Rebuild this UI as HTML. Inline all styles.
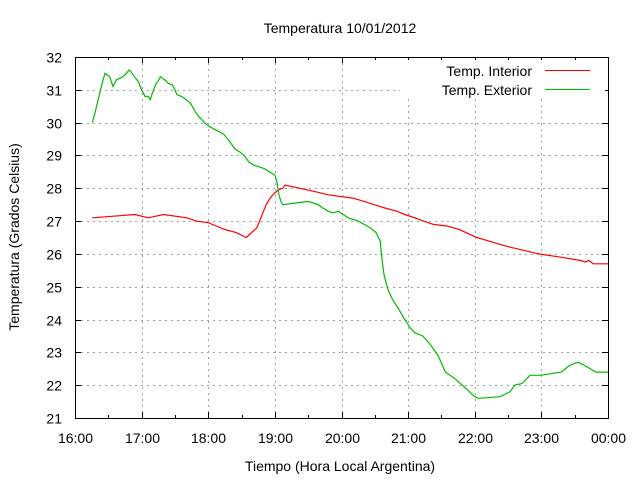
<!DOCTYPE html>
<html><head><meta charset="utf-8"><style>
body{margin:0;background:#fff}
svg text{font-family:"Liberation Sans",Arial,sans-serif;font-size:14px;fill:#000}
</style></head><body>
<svg width="640" height="480" viewBox="0 0 640 480">
<rect width="640" height="480" fill="#fff"/>
<g id="grid"></g>
<g id="axes"></g>
<g id="series"></g>
<text x="340" y="33" text-anchor="middle">Temperatura 10/01/2012</text>
<text x="340" y="471" text-anchor="middle">Tiempo (Hora Local Argentina)</text>
<text x="0" y="0" text-anchor="middle" transform="translate(19,237) rotate(-90)">Temperatura (Grados Celsius)</text>
<g>
<rect x="400" y="60" width="205" height="38" fill="#fff"/>
<text x="532" y="76" text-anchor="end">Temp. Interior</text>
<line x1="545" y1="70.5" x2="590" y2="70.5" stroke="#f00" stroke-width="1"/>
<text x="532" y="95" text-anchor="end">Temp. Exterior</text>
<line x1="545" y1="89.5" x2="590" y2="89.5" stroke="#0b0" stroke-width="1"/>
</g>
</svg>
<script>
const xTickLabels=["16:00","17:00","18:00","19:00","20:00","21:00","22:00","23:00","00:00"];
const yTickValues=[21,22,23,24,25,26,27,28,29,30,31,32];
const interiorTimes=[16.26,16.9,17.1,17.33,17.68,17.82,18.0,18.12,18.24,18.42,18.57,18.73,18.78,18.83,18.87,18.93,18.97,19.05,19.12,19.15,19.6,19.8,20.17,20.34,20.49,20.65,20.83,20.95,21.1,21.23,21.38,21.58,21.76,21.92,22.03,22.2,22.36,22.54,22.75,22.96,23.29,23.59,23.66,23.71,23.78,24.0];
const interiorTemps=[27.1,27.2,27.1,27.2,27.1,27.0,26.95,26.85,26.75,26.65,26.5,26.8,27.05,27.3,27.5,27.7,27.8,27.95,28.0,28.1,27.9,27.8,27.7,27.6,27.5,27.4,27.3,27.2,27.1,27.0,26.9,26.85,26.75,26.6,26.5,26.4,26.3,26.2,26.1,26.0,25.9,25.8,25.75,25.8,25.7,25.7];
const exteriorTimes=[16.26,16.3,16.36,16.42,16.45,16.52,16.57,16.62,16.72,16.77,16.81,16.84,16.89,16.95,17.0,17.05,17.1,17.13,17.16,17.22,17.26,17.28,17.32,17.35,17.4,17.46,17.5,17.53,17.6,17.67,17.73,17.8,17.85,17.9,17.94,18.0,18.09,18.23,18.33,18.4,18.48,18.54,18.61,18.69,18.84,19.0,19.03,19.06,19.09,19.12,19.5,19.65,19.72,19.8,19.87,19.95,20.1,20.25,20.34,20.43,20.52,20.58,20.61,20.64,20.7,20.77,20.85,20.95,21.03,21.1,21.22,21.33,21.45,21.56,21.7,21.84,22.0,22.06,22.38,22.53,22.6,22.71,22.83,22.98,23.3,23.42,23.55,23.65,23.82,24.0];
const exteriorTemps=[30.0,30.3,30.8,31.3,31.5,31.4,31.1,31.3,31.4,31.5,31.6,31.55,31.4,31.25,31.0,30.8,30.8,30.7,30.9,31.2,31.3,31.4,31.35,31.3,31.2,31.15,31.0,30.85,30.8,30.7,30.6,30.35,30.2,30.1,30.0,29.9,29.8,29.65,29.4,29.2,29.1,29.0,28.8,28.7,28.6,28.4,28.2,27.8,27.6,27.5,27.6,27.5,27.4,27.3,27.25,27.3,27.1,27.0,26.9,26.8,26.65,26.4,25.8,25.35,24.9,24.6,24.35,24.0,23.75,23.6,23.5,23.25,22.9,22.4,22.2,21.95,21.65,21.6,21.65,21.8,22.0,22.05,22.3,22.3,22.4,22.6,22.7,22.6,22.4,22.4];

const X0=75,X1=608,Y0=418,Y1=57;
const xs=t=>X0+(t-16)/8*(X1-X0);
const ys=v=>Y0-(v-21)/11*(Y0-Y1);
const NS="http://www.w3.org/2000/svg";
function mk(tag,attrs,parent){const e=document.createElementNS(NS,tag);for(const k in attrs)e.setAttribute(k,attrs[k]);parent.appendChild(e);return e;}
const grid=document.getElementById('grid'),axes=document.getElementById('axes'),series=document.getElementById('series');

yTickValues.forEach((v,i)=>{
  const y=Math.round(ys(v))+0.5;
  if(i>0&&i<yTickValues.length-1){
    const g=mk('line',{x1:X0,x2:X1,y1:y,y2:y,stroke:'#a0a0a0','stroke-dasharray':'2,4'},grid);
    
    
  }
  const t1=mk('line',{x1:X0,x2:X0+6,y1:y,y2:y,stroke:'#000'},axes);
  
  
  const t2=mk('line',{x1:X1-6,x2:X1,y1:y,y2:y,stroke:'#000'},axes);
  
  
  const tx=mk('text',{x:62,y:y+5,'text-anchor':'end'},axes);
  tx.textContent=v;
  
  
});
xTickLabels.forEach((lab,i)=>{
  const x=Math.round(xs(16+i))+0.5;
  if(i>0&&i<xTickLabels.length-1){
    const g=mk('line',{x1:x,x2:x,y1:Y1,y2:Y0,stroke:'#a0a0a0','stroke-dasharray':'2,4'},grid);
    
    
  }
  const t1=mk('line',{x1:x,x2:x,y1:Y0,y2:Y0-6,stroke:'#000'},axes);
  
  
  const t2=mk('line',{x1:x,x2:x,y1:Y1,y2:Y1+6,stroke:'#000'},axes);
  
  
  if(i<xTickLabels.length-1){
    const xm=Math.round(xs(16.5+i))+0.5;
    const m1=mk('line',{x1:xm,x2:xm,y1:Y0,y2:Y0-3,stroke:'#000'},axes);
    
    
    const m2=mk('line',{x1:xm,x2:xm,y1:Y1,y2:Y1+3,stroke:'#000'},axes);
    
    
  }
  const tx=mk('text',{x:x,y:443,'text-anchor':'middle'},axes);
  tx.textContent=lab;
  
  
});
const border=mk('rect',{x:X0+0.5,y:Y1+0.5,width:X1-X0,height:Y0-Y1,fill:'none',stroke:'#000'},axes);



function path(ts,vs){let d='M'+xs(ts[0]).toFixed(1)+','+ys(vs[0]).toFixed(1);
  for(let i=1;i<ts.length;i++){d+=' L'+xs(ts[i]).toFixed(1)+','+ys(vs[i]).toFixed(1);}return d;}
const pi=mk('path',{d:path(interiorTimes,interiorTemps),fill:'none',stroke:'#f00','stroke-width':1.2},series);


const pe=mk('path',{d:path(exteriorTimes,exteriorTemps),fill:'none',stroke:'#0b0','stroke-width':1.2},series);


</script>
</body></html>
